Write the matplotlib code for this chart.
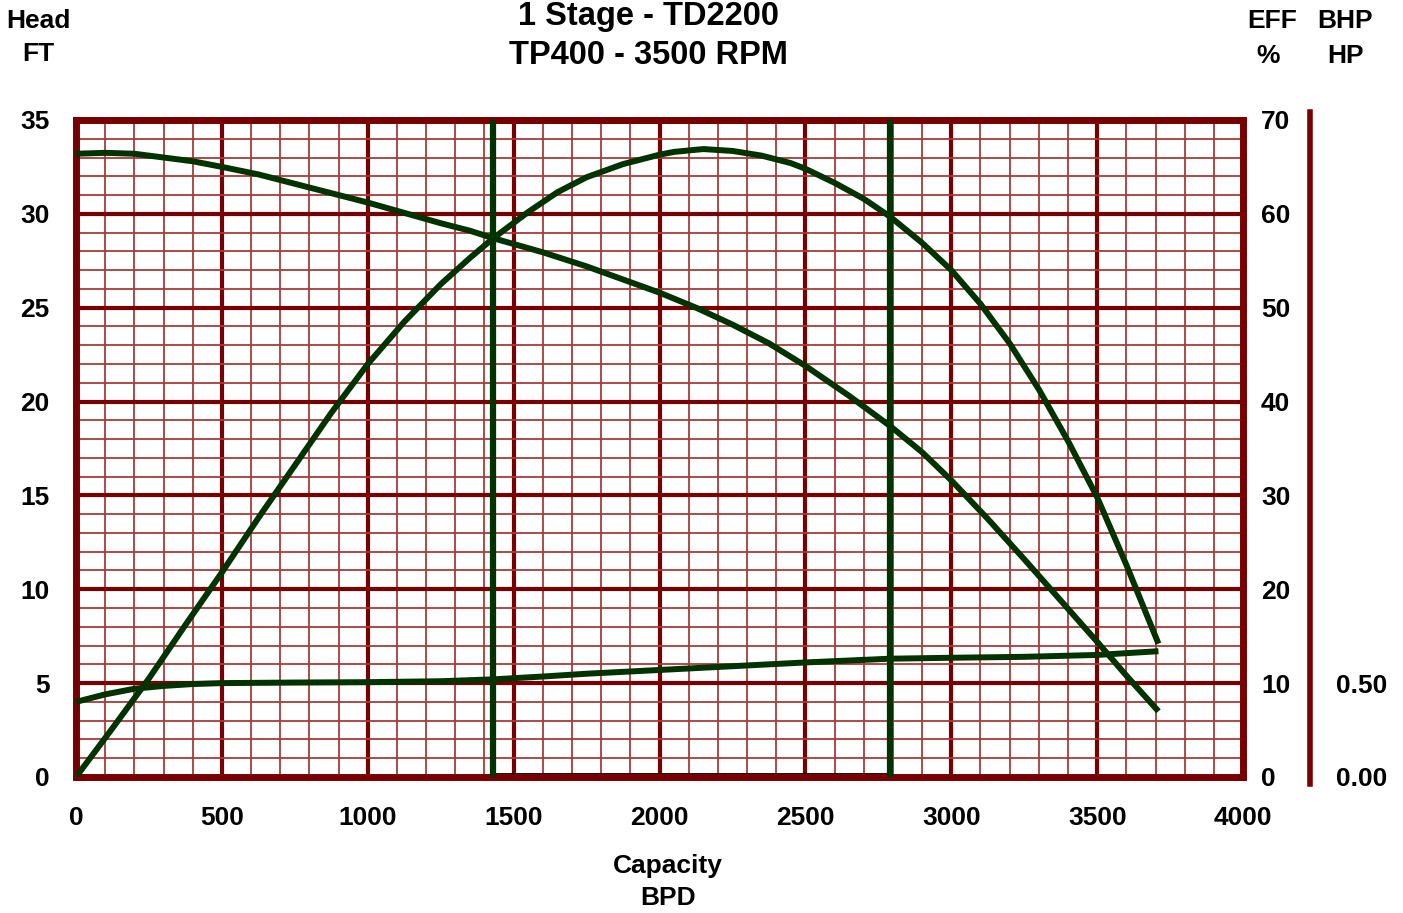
import numpy as np
import matplotlib
matplotlib.use('Agg')
import matplotlib.pyplot as plt
from matplotlib.ticker import MultipleLocator
from matplotlib.patches import Rectangle

plt.rcParams['font.family'] = ['Liberation Sans', 'DejaVu Sans']
plt.rcParams['font.weight'] = 'bold'

# curve data
head_q = [0, 100, 200, 300, 400, 500, 625, 750, 875, 1000, 1125, 1250, 1350,
          1430, 1600, 1750, 1875, 2000, 2125, 2250, 2375, 2500, 2650, 2790,
          2900, 3000, 3125, 3250, 3375, 3500, 3600, 3710]
head_ft = [33.2, 33.25, 33.2, 33.0, 32.8, 32.5, 32.1, 31.6, 31.1, 30.6, 30.05,
           29.5, 29.1, 28.7, 27.95, 27.2, 26.5, 25.8, 25.0, 24.1, 23.1, 21.9,
           20.3, 18.7, 17.3, 15.8, 13.75, 11.6, 9.4, 7.2, 5.4, 3.5]

eff_q = [0, 125, 250, 375, 500, 625, 750, 875, 1000, 1125, 1250, 1350, 1430,
         1550, 1650, 1750, 1875, 2000, 2050, 2150, 2250, 2350, 2450, 2500,
         2600, 2700, 2790, 2900, 3000, 3100, 3200, 3300, 3400, 3500, 3600,
         3710]
eff_pct = [0, 5.2, 10.5, 16.2, 21.8, 27.6, 33.2, 38.8, 44.0, 48.5, 52.5, 55.3,
           57.4, 60.2, 62.3, 63.9, 65.3, 66.3, 66.6, 66.9, 66.7, 66.2, 65.4,
           64.8, 63.3, 61.6, 59.7, 56.9, 54.0, 50.4, 46.2, 41.3, 35.8, 29.8,
           22.6, 14.2]

bhp_q = [0, 100, 200, 300, 400, 500, 750, 1000, 1250, 1430, 1600, 1750, 2000,
         2250, 2500, 2790, 3000, 3250, 3500, 3710]
bhp_hp = [0.40, 0.44, 0.47, 0.485, 0.495, 0.50, 0.503, 0.505, 0.51, 0.52, 0.535,
          0.55, 0.57, 0.59, 0.61, 0.63, 0.635, 0.64, 0.65, 0.67]

range_lo, range_hi = 1430, 2790

x_ticks = [0, 500, 1000, 1500, 2000, 2500, 3000, 3500, 4000]
head_ticks = [0, 5, 10, 15, 20, 25, 30, 35]
eff_ticks = [0, 10, 20, 30, 40, 50, 60, 70]
bhp_ticks = [0.0, 0.5]

red = '#780000'
minor_red = '#A83A3A'
green = '#003300'
fs = 19

fig = plt.figure(figsize=(14.03, 9.13), dpi=100)
ax = fig.add_axes([0.0542, 0.149, 0.8318, 0.7196])
ax.set_xlim(0, 4000)
ax.set_ylim(0, 35)
ax.xaxis.set_major_locator(MultipleLocator(500))
ax.xaxis.set_minor_locator(MultipleLocator(100))
ax.yaxis.set_major_locator(MultipleLocator(5))
ax.yaxis.set_minor_locator(MultipleLocator(1))
ax.grid(which='minor', color=minor_red, linewidth=1.3, zorder=0)
ax.grid(which='major', color=red, linewidth=3.0, zorder=0)
ax.set_axisbelow(True)
ax.set_xticks(x_ticks)
ax.set_xticklabels([str(v) for v in x_ticks])
ax.set_yticks(head_ticks)
ax.tick_params(which='both', length=0)
ax.tick_params(axis='x', pad=21, labelsize=fs)
ax.tick_params(axis='y', pad=19, labelsize=fs)
for s in ax.spines.values():
    s.set_color(red)
    s.set_linewidth(5)

# operating range box
ax.add_patch(Rectangle((range_lo, 0.15), range_hi - range_lo, 34.7, fill=False,
                       edgecolor='black', linewidth=1.3, zorder=2))
ax.axvline(range_lo, color=green, linewidth=4.5, zorder=4)
ax.axvline(range_hi, color=green, linewidth=4.5, zorder=4)

ax.plot(head_q, head_ft, color=green, linewidth=4.3, solid_capstyle='butt',
        solid_joinstyle='round', zorder=5)

ax2 = ax.twinx()
ax2.set_ylim(0, 70)
ax2.set_yticks(eff_ticks)
ax2.tick_params(length=0, pad=13, labelsize=fs)
for lab in ax2.get_yticklabels():
    lab.set_horizontalalignment('left')
for s in ax2.spines.values():
    s.set_visible(False)
ax2.plot(eff_q, eff_pct, color=green, linewidth=4.3, solid_capstyle='butt',
         solid_joinstyle='round', zorder=5)

ax3 = ax.twinx()
ax3.set_ylim(0, 3.5)
ax3.set_yticks(bhp_ticks)
ax3.set_yticklabels(['0.00', '0.50'])
ax3.tick_params(length=0, pad=19, labelsize=fs)
for k, s in ax3.spines.items():
    s.set_visible(k == 'right')
ax3.spines['right'].set_position(('outward', 48))
ax3.spines['right'].set_color(red)
ax3.spines['right'].set_linewidth(4)
ax3.spines['right'].set_bounds(-0.04, 3.54)
ax3.plot(bhp_q, bhp_hp, color=green, linewidth=4.3, solid_capstyle='butt',
         solid_joinstyle='round', zorder=5)

# header texts
fig.text(0.0271, 0.977, 'Head', ha='center', va='center', fontsize=fs)
fig.text(0.0271, 0.941, 'FT', ha='center', va='center', fontsize=fs)
fig.text(0.462, 0.982, '1 Stage - TD2200', ha='center', va='center', fontsize=23.5)
fig.text(0.462, 0.939, 'TP400 - 3500 RPM', ha='center', va='center', fontsize=23.5)
fig.text(0.907, 0.977, 'EFF', ha='center', va='center', fontsize=fs)
fig.text(0.904, 0.939, '%', ha='center', va='center', fontsize=fs)
fig.text(0.959, 0.977, 'BHP', ha='center', va='center', fontsize=fs)
fig.text(0.959, 0.939, 'HP', ha='center', va='center', fontsize=fs)
fig.text(0.476, 0.052, 'Capacity', ha='center', va='center', fontsize=fs)
fig.text(0.476, 0.016, 'BPD', ha='center', va='center', fontsize=fs)

plt.savefig('out.png', dpi=100)
